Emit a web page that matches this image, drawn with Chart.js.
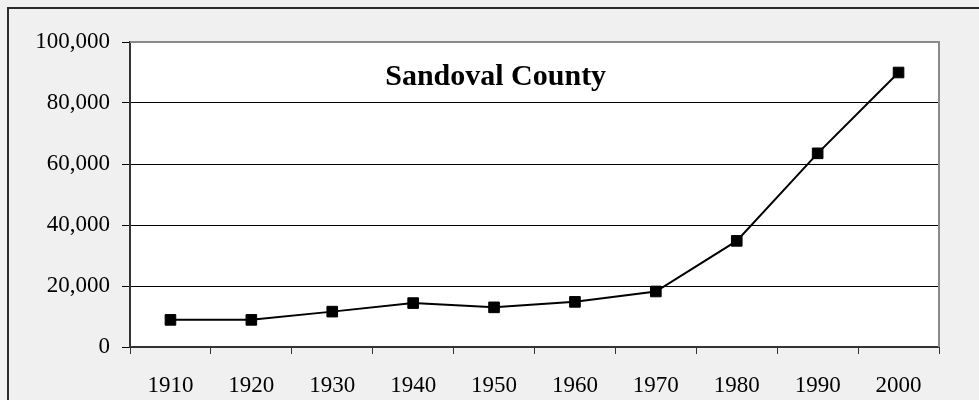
<!DOCTYPE html>
<html><head><meta charset="utf-8">
<script src="https://cdn.jsdelivr.net/npm/chart.js@4"></script>
<style>
html,body{margin:0;padding:0;background:#f0f0f0;overflow:hidden;width:979px;height:400px;}
#frame{position:absolute;left:7px;top:7px;width:2000px;height:2000px;border-left:2px solid #2b2b2b;border-top:2px solid #2b2b2b;}
#wrap{position:absolute;left:0;top:0;width:979px;height:400px;}
</style></head><body>
<div id="frame"></div>
<div id="wrap"><canvas id="c"></canvas></div>
<script>
const years = ['1910','1920','1930','1940','1950','1960','1970','1980','1990','2000'];
const population = [8900, 8900, 11600, 14400, 13000, 14800, 18200, 34800, 63500, 90000];
const yMin = 0;
const yMax = 100000;
const yStep = 20000;
const chartTitle = 'Sandoval County';

const FONT = '"Liberation Serif", "Times New Roman", serif';

const framePlugin = {
  id: 'framePlugin',
  beforeDraw(chart) {
    const {ctx, chartArea: a} = chart;
    ctx.save();
    ctx.fillStyle = '#ffffff';
    ctx.fillRect(a.left, a.top, a.right - a.left, a.bottom - a.top);
    ctx.restore();
  },
  afterDatasetsDraw(chart) {
    const {ctx, chartArea: a} = chart;
    ctx.save();
    ctx.strokeStyle = '#8a8a8a';
    ctx.lineWidth = 2;
    ctx.beginPath();
    ctx.moveTo(a.left, a.top);
    ctx.lineTo(a.right, a.top);
    ctx.lineTo(a.right, a.bottom);
    ctx.stroke();
    ctx.fillStyle = '#000';
    ctx.font = 'bold 30px ' + FONT;
    ctx.textAlign = 'center';
    ctx.textBaseline = 'alphabetic';
    ctx.fillText(chartTitle, a.left + (a.right - a.left) * 0.452, 85);
    ctx.restore();
  }
};

new Chart(document.getElementById('c'), {
  type: 'line',
  data: {
    labels: years,
    datasets: [{
      data: population,
      borderColor: '#000',
      borderWidth: 2,
      backgroundColor: '#000',
      pointStyle: 'rect',
      pointRadius: 7.5,
      pointBorderWidth: 1,
      pointBorderColor: '#000',
      pointBackgroundColor: '#000',
      tension: 0,
      fill: false
    }]
  },
  options: {
    responsive: true,
    maintainAspectRatio: false,
    animation: false,
    layout: { padding: { top: 42, right: 40, left: 0, bottom: 0 } },
    plugins: { legend: { display: false }, tooltip: { enabled: false }, title: { display: false } },
    scales: {
      x: {
        offset: true,
        grid: { offset: true, drawOnChartArea: false, drawTicks: true, tickLength: 7, color: '#333', lineWidth: 1 },
        border: { display: true, color: '#333', width: 2 },
        ticks: { color: '#000', font: { family: FONT, size: 23 }, padding: 18, maxRotation: 0, autoSkip: false },
        afterFit(s) { s.height = 53; }
      },
      y: {
        min: yMin, max: yMax,
        grid: { color: '#000', lineWidth: 1, tickLength: 8, drawTicks: true },
        border: { display: true, color: '#333', width: 2 },
        ticks: {
          stepSize: yStep, color: '#000', font: { family: FONT, size: 23 }, padding: 12,
          callback: v => v.toLocaleString('en-US')
        },
        afterFit(s) { s.width = 130; }
      }
    }
  },
  plugins: [framePlugin]
});
</script>
</body></html>
